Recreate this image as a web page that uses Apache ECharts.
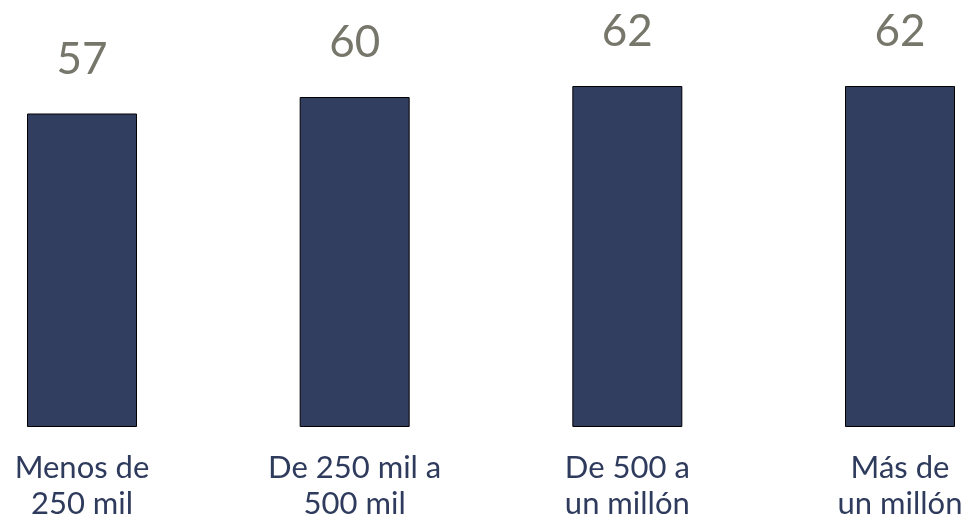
<!DOCTYPE html>
<html>
<head>
<meta charset="utf-8">
<script src="https://cdn.jsdelivr.net/npm/echarts@6/dist/echarts.min.js"></script>
<style>html,body{margin:0;padding:0;background:#fff;}#c{width:971px;height:522px;}</style>
</head>
<body>
<div id="c"></div>
<script>
const categories = ["Menos de\n250 mil", "De 250 mil a\n500 mil", "De 500 a\nun millón", "Más de\nun millón"];
const values = [57, 60, 62, 62];

const chart = echarts.init(document.getElementById('c'));
chart.setOption({
  animation: false,
  grid: { left: 82, right: 71, top: 42, bottom: 93 },
  xAxis: {
    type: 'category',
    data: categories,
    boundaryGap: false,
    axisLine: { show: false },
    axisTick: { show: false },
    axisLabel: {
      interval: 0,
      margin: 23,
      color: '#2f3b5c',
      fontFamily: 'Lato',
      fontSize: 31,
      lineHeight: 36
    }
  },
  yAxis: { type: 'value', min: 0, max: 70, show: false, splitLine: { show: false } },
  series: [{
    type: 'bar',
    data: values,
    barWidth: 110,
    itemStyle: { color: '#323e5f', borderColor: '#000', borderWidth: 1 },
    label: {
      show: true,
      position: 'top',
      distance: 32,
      color: '#77766b',
      fontFamily: 'Lato',
      fontSize: 44
    }
  }]
});
</script>
</body>
</html>
